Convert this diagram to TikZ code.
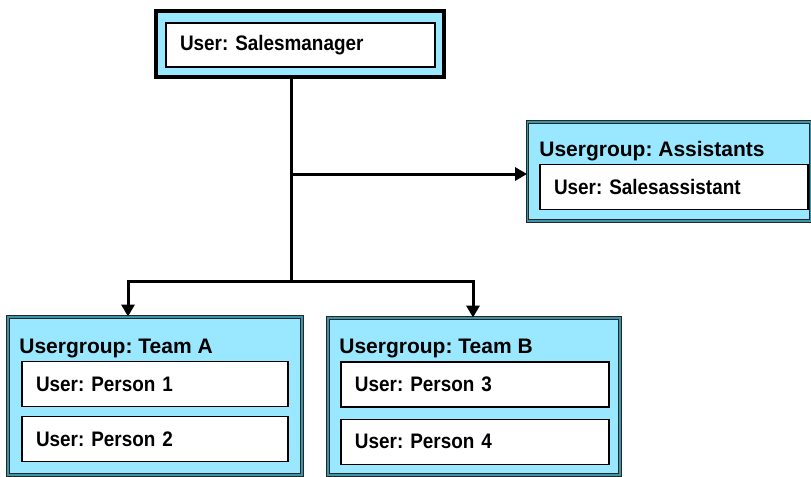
\documentclass[tikz,border=0pt]{standalone}
\usepackage{fontspec}
\setmainfont{Liberation Sans}[FakeStretch=0.9]
\newfontfamily\grpfont{Liberation Sans}
\frenchspacing
\usetikzlibrary{positioning,arrows.meta}
\definecolor{grpfill}{RGB}{153,232,255}
\definecolor{grpedge}{RGB}{60,150,170}

\begin{document}
\begin{tikzpicture}[
  x = 0.5pt, y = -0.5pt,
  font = \fontsize{10.5}{12}\selectfont\bfseries,
  grpbox/.style  = {draw=black!85, line width=0.45pt, double=grpedge,
                    double distance=0.9pt, fill=grpfill, inner sep=0pt},
  mgrbox/.style  = {draw=black, line width=1.6pt, fill=grpfill, inner sep=0pt},
  userbox/.style = {draw=black, fill=white, line width=0.6pt,
                    minimum height=22.5pt, inner xsep=7pt, inner ysep=0pt,
                    align=left},
  grptitle/.style = {anchor=base west, inner sep=0pt,
                     font=\grpfont\fontsize{10.5}{12}\selectfont\bfseries},
  link/.style    = {-{Triangle[length=6pt,width=6.5pt]}, line width=1.5pt},
  trunk/.style   = {line width=1.5pt},
]
\useasboundingbox (0,0) rectangle (811,477);

% Outer frames
\node[mgrbox, minimum width=144pt, minimum height=33pt]   (mgr)   at (300,44)   {};
\node[grpbox, minimum width=141.5pt, minimum height=49.5pt] (asst) at (669,171.5) {};
\node[grpbox, minimum width=147pt, minimum height=79pt]   (teamA) at (155,396)  {};
\node[grpbox, minimum width=146pt, minimum height=78.5pt] (teamB) at (474,396.5) {};

% Group titles
\node[grptitle] (asstT)  at (539,156) {Usergroup: Assistants};
\node[grptitle] (teamAT) at (19,353)  {Usergroup: Team A};
\node[grptitle] (teamBT) at (339,353) {Usergroup: Team B};

% Users
\node[userbox, text width=120.5pt, minimum height=22pt] (u0) at (300.5,45) {User: Salesmanager};
\node[userbox, text width=120pt]   (u1) at (674,187)   {User: Salesassistant};
\node[userbox, text width=119pt]   (p1) at (155,384)   {User: Person 1};
\node[userbox, text width=119pt, below=4.5pt of p1] (p2) {User: Person 2};
\node[userbox, text width=120pt]   (p3) at (475,384.5) {User: Person 3};
\node[userbox, text width=120pt, below=5.5pt of p3] (p4) {User: Person 4};

% Connectors
\coordinate (tee)   at (291,174);
\coordinate (split) at (291,281);
\coordinate (dropA) at (128,281);
\coordinate (dropB) at (473,281);
\draw[trunk] (mgr.south -| split) -- (split);
\draw[link] (tee) -- (tee -| asst.west);
\draw[link] (split) -- (dropA) -- (dropA |- teamA.north);
\draw[link] (split) -- (dropB) -- (dropB |- teamB.north);

\end{tikzpicture}
\end{document}
